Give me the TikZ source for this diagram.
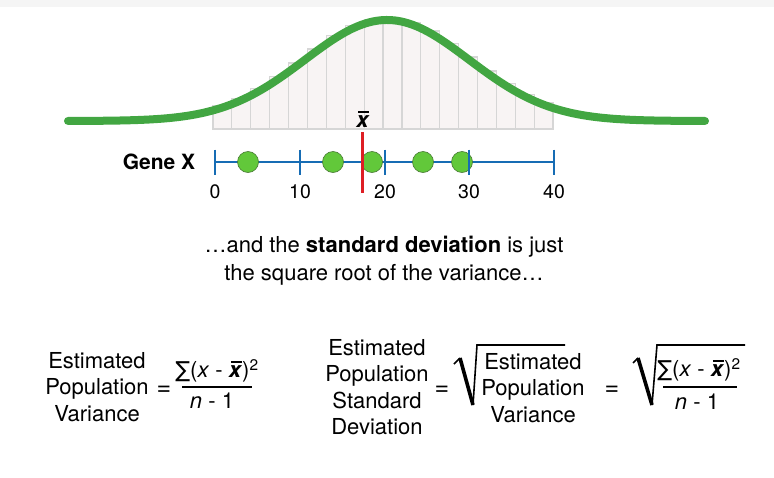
\documentclass[tikz,border=0pt]{standalone}
\usepackage{fontspec}
\setmainfont{TeX Gyre Heros}
\newfontfamily\sumfont{DejaVu Sans}
\definecolor{curvegreen}{RGB}{66,166,66}
\definecolor{dotgreen}{RGB}{98,200,58}
\definecolor{dotedge}{RGB}{72,120,52}
\definecolor{axisblue}{RGB}{22,108,180}
\definecolor{meanred}{RGB}{222,30,36}
\definecolor{barfill}{RGB}{248,244,244}
\definecolor{barline}{RGB}{214,214,214}
\newcommand{\xbarb}{\textbf{\textit{x}}\llap{\rule[0.68em]{0.5em}{0.09em}\hspace{0.01em}}}
\newcommand{\sumterm}{{\sumfont ∑}(\textit{x} - \xbarb)\textsuperscript{2}}
\tikzset{
  histbar/.style={draw=barline,fill=barfill,line width=1.2pt},
  bellcurve/.style={curvegreen,line width=8pt,line cap=round},
  axisline/.style={axisblue,line width=2pt},
  tickmark/.style={axisblue,line width=2.2pt},
  dot/.style={circle,fill=dotgreen,draw=dotedge,line width=0.6pt,inner sep=0pt,minimum size=21pt},
  meanline/.style={meanred,line width=3pt},
  ticklabel/.style={font=\fontsize{19.5}{22}\selectfont},
  formula/.style={align=center,inner sep=0pt,font=\fontsize{22}{26.5}\selectfont},
  eqsign/.style={inner sep=0pt,font=\fontsize{25}{26}\selectfont},
  radical/.style={line width=1.6pt,line join=miter}
}
\begin{document}
\begin{tikzpicture}[x=1pt,y=-1pt]
\useasboundingbox (0,0) rectangle (774,477);
\fill[black!4] (0,0) rectangle (774,7);
\foreach \i in {0,...,17}{
  \pgfmathsetmacro\bx{213+\i*18.89}
  \pgfmathsetmacro\by{119-101*exp(-0.5*((\bx+9.45-387)/82)^2)}
  \draw[histbar] (\bx,129) rectangle (\bx+18.89,\by);
}
\draw[bellcurve] plot[domain=68:705,samples=120,smooth] (\x,{121-101*exp(-0.5*((\x-387)/82)^2)});
\node[font=\fontsize{22}{24}\selectfont,inner sep=0pt] (xbar) at (363,119) {\xbarb};
\node[font=\bfseries\fontsize{21}{24}\selectfont] (gene) at (159,162) {Gene X};
\coordinate (t0) at (215,162);
\coordinate (t40) at (554,162);
\draw[axisline] (t0) -- (t40);
\foreach \px [count=\k] in {248,333,372,423,462}
  \node[dot] (d\k) at (\px,162) {};
\foreach \v/\px in {0/215,10/300,20/385,30/469,40/554}{
  \draw[tickmark] (\px,149.5) -- (\px,174.5);
  \node[ticklabel] (l\v) at (\px,192) {\v};
}
\coordinate (mtop) at (362.7,132);
\coordinate (mbot) at (362.7,193);
\draw[meanline] (mtop) -- (mbot);
\node[align=center,font=\fontsize{22}{28}\selectfont] (caption) at (384,261)
  {…and the \textbf{standard deviation} is just\\the square root of the variance…};
\node[formula] (var) at (97,387) {Estimated\\Population\\Variance};
\node[eqsign] (eq1) at (164,391) {=};
\node[formula] (num1) at (217,371) {\sumterm};
\node[formula] (den1) at (212,401) {\textit{n} - 1};
\draw[line width=2.6pt] (182,387) -- (252,387);
\node[formula] (sd) at (377,387) {Estimated\\Population\\Standard\\Deviation};
\node[eqsign] (eq2) at (442,391) {=};
\draw[radical] (454,364) -- (460,358);
\draw[line width=3.6pt] (460,358) -- (473,405);
\draw[radical] (473,405) -- (477,345) -- (565,345);
\node[formula] (inner) at (533,388) {Estimated\\Population\\Variance};
\node[eqsign] (eq3) at (612,391) {=};
\draw[radical] (633,363) -- (638,358);
\draw[line width=3.6pt] (638,358) -- (652,405);
\draw[radical] (652,405) -- (657,345) -- (745,345);
\node[formula] (num2) at (699,370) {\sumterm};
\node[formula] (den2) at (697,402) {\textit{n} - 1};
\draw[line width=2.6pt] (663,387) -- (737,387);
\end{tikzpicture}
\end{document}
